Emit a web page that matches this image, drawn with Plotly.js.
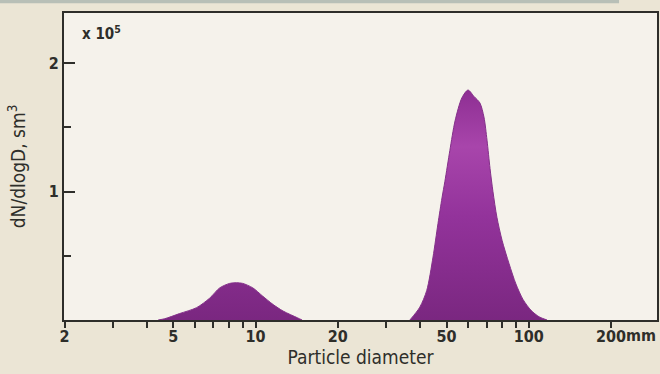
<!DOCTYPE html>
<html>
<head>
<meta charset="utf-8">
<script src="https://cdn.plot.ly/plotly-3.0.1.min.js"></script>
<style>
  html, body { margin: 0; padding: 0; background: #ebe5d5; }
  #chart { width: 660px; height: 374px; }
</style>
</head>
<body>
<div id="chart"></div>
<script>
// Particle diameter (mm) and dN/dlogD (x 10^5 sm^3)
const fineDiameter = [4.4, 4.65, 5.27, 6.08, 6.79, 7.39, 8.04, 8.5, 8.97, 9.77, 10.6, 11.6, 12.6, 14.2, 14.8];
const fineValue    = [0, 0.01, 0.05, 0.096, 0.17, 0.25, 0.285, 0.29, 0.285, 0.25, 0.187, 0.12, 0.07, 0.018, 0];

const coarseDiameter = [36.7, 39.9, 42.3, 44.6, 46.5, 48.1, 49.3, 51.4, 53.7, 56.9, 59.9, 63.0, 66.2, 68.5, 70.3, 72.1, 73.9, 76.4, 79.8, 84.6, 89.7, 95.2, 101.9, 109.0, 116.6];
const coarseValue    = [0, 0.10, 0.23, 0.49, 0.75, 0.95, 1.08, 1.32, 1.55, 1.73, 1.79, 1.74, 1.69, 1.58, 1.40, 1.18, 1.00, 0.80, 0.62, 0.44, 0.28, 0.16, 0.075, 0.025, 0];

const xMajorTicks = [2, 5, 10, 20, 50, 100, 200];
const xMajorLabels = ['2', '5', '10', '20', '50', '100', '200'];
const xMinorTicks = [3, 4, 6, 7, 8, 9, 30, 40, 60, 70, 80, 90];
const yMajorTicks = [1, 2];
const yMajorLabels = ['1', '2'];
const yMinorTicks = [0.5, 1.5];

const FONT = 'DejaVu Sans Condensed, Liberation Sans Narrow, Liberation Sans, Arial, sans-serif';
const INK = '#2e2e2a';
const gradient = {
  type: 'vertical', start: 0, stop: 1.8,
  colorscale: [[0, '#7a2780'], [0.45, '#93339b'], [0.75, '#a845ab'], [1, '#8d2e92']]
};

function peak(name, xs, ys) {
  return {
    type: 'scatter', mode: 'lines', name: name,
    x: xs, y: ys,
    line: {shape: 'spline', smoothing: 0.8, color: '#84308a', width: 1},
    fill: 'tozeroy', fillcolor: '#8a2d8e', fillgradient: gradient,
    hoverinfo: 'x+y', showlegend: false
  };
}

const data = [
  peak('Fine mode', fineDiameter, fineValue),
  peak('Coarse mode', coarseDiameter, coarseValue)
];

const layout = {
  width: 660, height: 374,
  margin: {l: 64, r: 3, t: 13, b: 54},
  paper_bgcolor: '#ebe5d5',
  plot_bgcolor: '#f5f2eb',
  showlegend: false,
  font: {family: FONT, color: INK, size: 15},
  xaxis: {
    type: 'log',
    range: [Math.log10(1.99), 2.469],
    tickmode: 'array', tickvals: xMajorTicks, ticktext: xMajorLabels,
    ticks: 'outside', ticklen: 6, tickwidth: 2, tickcolor: INK,
    ticklabelstandoff: -5,
    minor: {tickmode: 'array', tickvals: xMinorTicks, ticks: 'outside', ticklen: 6, tickwidth: 2, tickcolor: INK, showgrid: false},
    showgrid: false, zeroline: false,
    showline: true, linecolor: INK, linewidth: 2, mirror: true,
    tickfont: {family: FONT, size: 16, color: INK, weight: 'bold'},
    title: {text: 'Particle diameter', font: {family: FONT, size: 19, color: INK}, standoff: 4}
  },
  yaxis: {
    range: [0, 2.39],
    tickmode: 'array', tickvals: yMajorTicks, ticktext: yMajorLabels,
    ticks: 'inside', ticklen: 11, tickwidth: 2, tickcolor: INK,
    minor: {tickmode: 'array', tickvals: yMinorTicks, ticks: 'inside', ticklen: 7, tickwidth: 2, tickcolor: INK, showgrid: false},
    showgrid: false, zeroline: false,
    showline: true, linecolor: INK, linewidth: 2, mirror: true,
    tickfont: {family: FONT, size: 16, color: INK, weight: 'bold'},
    title: {text: 'dN/dlogD, sm<sup>3</sup>', font: {family: FONT, size: 19, color: INK}, standoff: 18}
  },
  annotations: [
    {xref: 'paper', yref: 'paper', x: 0.027, y: 0.935, xanchor: 'left', yanchor: 'middle',
     text: 'x 10<sup>5</sup>', showarrow: false, font: {family: FONT, size: 15, color: INK, weight: 'bold'}},
    {xref: 'paper', yref: 'paper', x: 0.944, y: 0, yshift: -4, xanchor: 'left', yanchor: 'top',
     text: 'mm', showarrow: false, font: {family: FONT, size: 16, color: INK, weight: 'bold'}}
  ],
  shapes: [
    {type: 'rect', xref: 'paper', yref: 'paper', x0: -0.11, x1: 0.936, y0: 1.032, y1: 1.05,
     line: {width: 0}, fillcolor: '#b8bfb7', layer: 'below'}
  ]
};

Plotly.newPlot('chart', data, layout, {displayModeBar: false, staticPlot: true});
</script>
</body>
</html>
